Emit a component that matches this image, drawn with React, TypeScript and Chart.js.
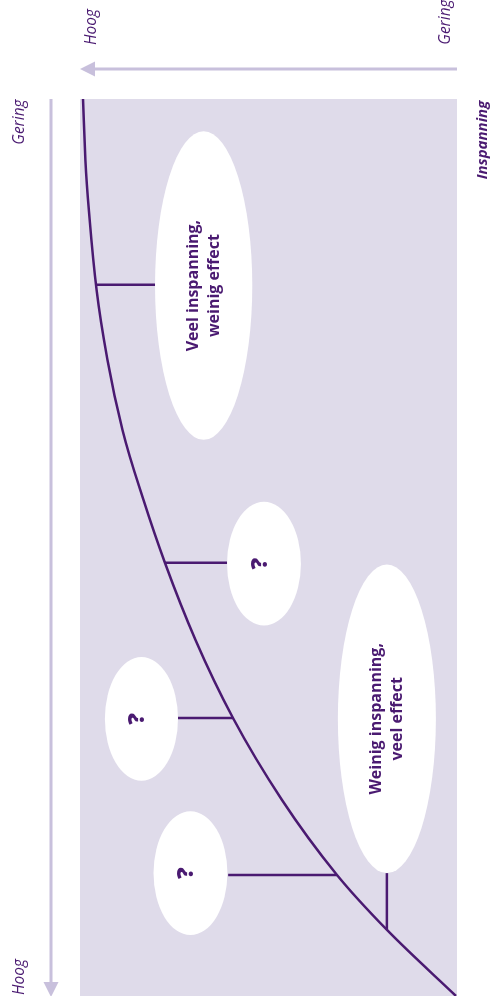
import React, { useEffect, useRef } from "react";
import Chart from "chart.js/auto";

// Curve: horizontal position (0-100) vs vertical position (0-100, top to bottom)
const curveX = [0.8, 1.43, 2.55, 4.4, 7.29, 11.27, 16.84, 22.55, 30.64, 40.58, 53.58, 68.17, 81.43, 99.73];
const curveY = [0, 6.8, 13.38, 21.29, 29.1, 36.9, 44.7, 51.73, 60.31, 69.01, 78.15, 86.51, 92.64, 100];

// Ellipses (bubbles)
const bubbleCx = [32.8, 48.8, 16.3, 29.3, 81.4];
const bubbleCy = [20.8, 51.8, 69.1, 86.3, 69.1];
const bubbleRx = [12.9, 9.8, 9.7, 9.8, 13.0];
const bubbleRy = [17.2, 6.9, 6.9, 6.9, 17.2];
const bubbleLines = [
  ["Veel inspanning,", "weinig effect"],
  ["?"],
  ["?"],
  ["?"],
  ["Weinig inspanning,", "veel effect"],
];

// Connectors from curve to bubbles
const connX1 = [4.3, 22.5, 40.6, 68.2, 81.4];
const connY1 = [20.7, 51.7, 69.0, 86.5, 92.6];
const connX2 = [19.9, 39.0, 26.0, 39.3, 81.4];
const connY2 = [20.7, 51.7, 69.0, 86.5, 86.3];

const topAxisLabels = ["Hoog", "Gering"];
const sideAxisLabels = ["Gering", "Hoog"];
const axisTitle = "Inspanning";

const DARK = "#4a1a71";
const SHADE = "#dfdbea";
const ARROW = "#c8c0dc";

export default function App() {
  const ref = useRef<HTMLCanvasElement | null>(null);

  useEffect(() => {
    if (!ref.current) return;

    const diagramPlugin = {
      id: "diagram",
      beforeDraw(chart: any) {
        const { ctx, chartArea: a } = chart;
        ctx.save();
        ctx.fillStyle = SHADE;
        ctx.fillRect(a.left, a.top, a.right - a.left, a.bottom - a.top);
        ctx.restore();
      },
      beforeDatasetsDraw(chart: any) {
        const { ctx } = chart;
        const xs = chart.scales.x;
        const ys = chart.scales.y;
        ctx.save();
        ctx.fillStyle = "#ffffff";
        for (let i = 0; i < bubbleCx.length; i++) {
          const cx = xs.getPixelForValue(bubbleCx[i]);
          const cy = ys.getPixelForValue(bubbleCy[i]);
          const rx = Math.abs(xs.getPixelForValue(bubbleCx[i] + bubbleRx[i]) - cx);
          const ry = Math.abs(ys.getPixelForValue(bubbleCy[i] + bubbleRy[i]) - cy);
          ctx.beginPath();
          ctx.ellipse(cx, cy, rx, ry, 0, 0, Math.PI * 2);
          ctx.fill();
        }
        ctx.restore();
      },
      afterDatasetsDraw(chart: any) {
        const { ctx } = chart;
        const xs = chart.scales.x;
        const ys = chart.scales.y;
        ctx.save();
        ctx.fillStyle = DARK;
        ctx.textAlign = "center";
        ctx.textBaseline = "middle";
        for (let i = 0; i < bubbleCx.length; i++) {
          const cx = xs.getPixelForValue(bubbleCx[i]);
          const cy = ys.getPixelForValue(bubbleCy[i]);
          const lines = bubbleLines[i];
          const isQ = lines.length === 1;
          ctx.font = isQ ? "800 23px 'Open Sans'" : "bold 16px 'Open Sans'";
          const lh = 21;
          ctx.save();
          ctx.translate(isQ ? cx - 4 : cx, cy);
          ctx.rotate(-Math.PI / 2);
          lines.forEach((t, k) => {
            const off = (k - (lines.length - 1) / 2) * lh;
            ctx.fillText(t, 0, off);
          });
          ctx.restore();
        }
        ctx.restore();
      },
      afterDraw(chart: any) {
        const { ctx, chartArea: a } = chart;
        ctx.save();
        // top arrow
        const ty = a.top - 30;
        ctx.strokeStyle = ARROW;
        ctx.fillStyle = ARROW;
        ctx.lineWidth = 3;
        ctx.beginPath();
        ctx.moveTo(a.right, ty);
        ctx.lineTo(a.left + 12, ty);
        ctx.stroke();
        ctx.beginPath();
        ctx.moveTo(a.left, ty);
        ctx.lineTo(a.left + 15, ty - 7.5);
        ctx.lineTo(a.left + 15, ty + 7.5);
        ctx.closePath();
        ctx.fill();
        // left arrow
        const lx = a.left - 29;
        ctx.beginPath();
        ctx.moveTo(lx, a.top);
        ctx.lineTo(lx, a.bottom - 12);
        ctx.stroke();
        ctx.beginPath();
        ctx.moveTo(lx, a.bottom + 1);
        ctx.lineTo(lx - 7.5, a.bottom - 14);
        ctx.lineTo(lx + 7.5, a.bottom - 14);
        ctx.closePath();
        ctx.fill();

        // labels
        ctx.fillStyle = DARK;
        ctx.textAlign = "center";
        ctx.textBaseline = "middle";
        const rot = (text: string, x: number, y: number, font: string) => {
          ctx.save();
          ctx.font = font;
          ctx.translate(x, y);
          ctx.rotate(-Math.PI / 2);
          ctx.fillText(text, 0, 0);
          ctx.restore();
        };
        const it = "italic 15.5px 'Open Sans'";
        rot(topAxisLabels[0], a.left + 12, 27, it);
        rot(topAxisLabels[1], a.right - 11, 22, it);
        rot(sideAxisLabels[0], lx - 31, a.top + 23, it);
        rot(sideAxisLabels[1], lx - 31, a.bottom - 19, it);
        rot(axisTitle, a.right + 26, a.top + 41, "italic bold 15px 'Open Sans'");
        ctx.restore();
      },
    };

    const lineDs = (data: { x: number; y: number }[], extra: any = {}) => ({
      type: "line" as const,
      data,
      borderColor: DARK,
      borderWidth: 2.5,
      pointRadius: 0,
      fill: false,
      ...extra,
    });

    const datasets: any[] = [
      lineDs(
        curveX.map((x, i) => ({ x, y: curveY[i] })),
        { cubicInterpolationMode: "monotone" }
      ),
    ];
    for (let i = 0; i < connX1.length; i++) {
      datasets.push(
        lineDs([
          { x: connX1[i], y: connY1[i] },
          { x: connX2[i], y: connY2[i] },
        ])
      );
    }

    const chart = new Chart(ref.current, {
      type: "scatter",
      data: { datasets },
      plugins: [diagramPlugin],
      options: {
        animation: false,
        responsive: true,
        maintainAspectRatio: false,
        layout: { padding: { left: 80, right: 34, top: 99, bottom: 0 } },
        plugins: { legend: { display: false }, tooltip: { enabled: false } },
        scales: {
          x: { type: "linear", min: 0, max: 100, display: false },
          y: { type: "linear", min: 0, max: 100, reverse: true, display: false },
        },
      },
    });
    return () => chart.destroy();
  }, []);

  return (
    <div style={{ position: "fixed", left: 0, top: 0, width: 491, height: 996 }}>
      <canvas ref={ref} />
    </div>
  );
}
